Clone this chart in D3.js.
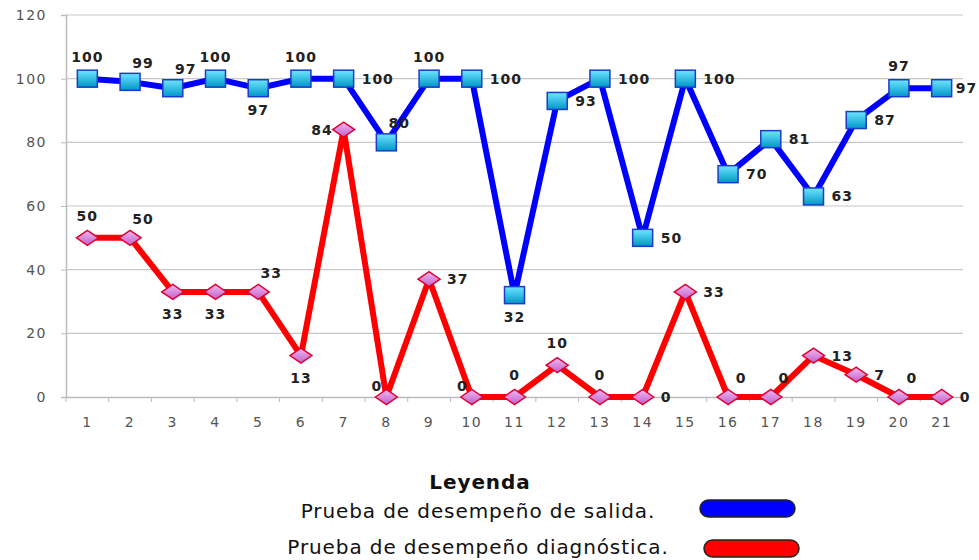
<!DOCTYPE html>
<html lang="es">
<head>
<meta charset="UTF-8">
<title>Leyenda</title>
<script src="https://cdn.jsdelivr.net/npm/d3@7"></script>
<style>
    body{ margin:0; background:#fff; }
    .tick text{ font-family:"DejaVu Sans", Verdana, sans-serif; font-size:14px; letter-spacing:1.5px; fill:#555; }
    .lbl{ font-family:"DejaVu Sans", Verdana, sans-serif; font-size:14px; letter-spacing:1px; font-weight:bold; fill:#222; }
    .leg{ font-family:"DejaVu Sans", Verdana, sans-serif; font-size:20px; letter-spacing:0.9px; fill:#111; }
</style>
</head>
<body>
<svg width="979" height="560"></svg>
<script>
    const categories = d3.range(1, 22).map(String)
    const salida = [100, 99, 97, 100, 97, 100, 100, 80, 100, 100, 32, 93, 100, 50, 100, 70, 81, 63, 87, 97, 97]
    const diagnostica = [50, 50, 33, 33, 33, 13, 84, 0, 37, 0, 0, 10, 0, 0, 33, 0, 0, 13, 7, 0, 0]
    const yTicks = [0, 20, 40, 60, 80, 100, 120]

    // where each value label sits relative to its point
    const salidaPos = ["t","tr","tr","t","b","t","r","tr","t","r","b","r","r","r","r","r","r","r","r","t","re"]
    const diagPos = ["t","tr","b","b","tr","b","l","tl","r","tl","t","t","t","r","r","tr","tr","r","r","tr","r"]
    const offs = {
        t:[0,-17,"middle"], b:[0,27,"middle"], r:[18,5,"start"], l:[-11,5,"end"],
        tr:[13,-14,"middle"], tl:[-4,-6,"end"], re:[14,5,"start"]
    }

    const svg = d3.select("svg")
    const x = d3.scaleBand().domain(categories).range([66, 963])
    const y = d3.scaleLinear().domain([0, 120]).range([397, 15])

    // grid
    svg.append("g").selectAll("line").data(yTicks.filter(d => d > 0)).enter().append("line")
        .attr("x1", 66).attr("x2", 963)
        .attr("y1", d => y(d)).attr("y2", d => y(d))
        .attr("stroke", "#c8c8c8").attr("stroke-width", 1.2)

    const yAxis = svg.append("g").attr("transform", "translate(66,0)")
        .call(d3.axisLeft(y).tickValues(yTicks).tickSize(5).tickPadding(14))
    yAxis.select(".domain").attr("stroke", "#bbb").attr("stroke-width", 1.5)
    yAxis.selectAll(".tick line").attr("stroke", "#bbb")

    const xAxis = svg.append("g").attr("transform", "translate(0,397)")
        .call(d3.axisBottom(x).tickSize(0).tickPadding(20))
    xAxis.select(".domain").attr("stroke", "#bbb").attr("stroke-width", 1.5)
    xAxis.append("g").selectAll("line").data(categories.concat("end")).enter().append("line")
        .attr("x1", (d, i) => 66 + i * x.step()).attr("x2", (d, i) => 66 + i * x.step())
        .attr("y1", 0).attr("y2", 5).attr("stroke", "#bbb")

    const cx = (d, i) => x(categories[i]) + x.bandwidth() / 2
    const line = d3.line().x(cx).y(d => y(d))

    const defs = svg.append("defs")
    const g1 = defs.append("linearGradient").attr("id", "sq").attr("x1", 0).attr("y1", 0).attr("x2", 0).attr("y2", 1)
    g1.append("stop").attr("offset", "0%").attr("stop-color", "#6fe6ff")
    g1.append("stop").attr("offset", "100%").attr("stop-color", "#0096c8")
    const g2 = defs.append("linearGradient").attr("id", "dm").attr("x1", 0).attr("y1", 0).attr("x2", 0).attr("y2", 1)
    g2.append("stop").attr("offset", "0%").attr("stop-color", "#f2b8f2")
    g2.append("stop").attr("offset", "100%").attr("stop-color", "#c060c8")

    function series(vals, color, pos, marker) {
        const g = svg.append("g")
        g.append("path").datum(vals).attr("d", line)
            .attr("fill", "none").attr("stroke", color).attr("stroke-width", 6).attr("stroke-linejoin", "round")
        const m = g.selectAll(".m").data(vals).enter().append("g")
            .attr("transform", (d, i) => `translate(${cx(d, i)},${y(d)})`)
        if (marker === "sq") {
            m.append("rect").attr("x", -10).attr("y", -8.5).attr("width", 20).attr("height", 17)
                .attr("fill", "url(#sq)").attr("stroke", "#1a3cc8").attr("stroke-width", 1.5)
        } else {
            m.append("path").attr("d", "M-11,0L0,-7.5L11,0L0,7.5Z")
                .attr("fill", "url(#dm)").attr("stroke", "#e00030").attr("stroke-width", 1.5)
        }
        g.selectAll(".lbl").data(vals).enter().append("text").attr("class", "lbl")
            .attr("x", (d, i) => cx(d, i) + offs[pos[i]][0])
            .attr("y", (d, i) => y(d) + offs[pos[i]][1])
            .attr("text-anchor", (d, i) => offs[pos[i]][2])
            .text(d => d)
    }
    series(diagnostica, "#ff0000", diagPos, "dm")
    series(salida, "#0000ff", salidaPos, "sq")

    // legend
    svg.append("text").attr("class", "leg").attr("x", 480).attr("y", 489)
        .attr("text-anchor", "middle").attr("font-weight", "bold").text("Leyenda")
    const legend = [["Prueba de desempeño de salida.", "#0000ff"], ["Prueba de desempeño diagnóstica.", "#ff0000"]]
    legend.forEach((d, i) => {
        svg.append("text").attr("class", "leg").attr("x", 478).attr("y", 518 + i * 36)
            .attr("text-anchor", "middle").text(d[0])
        svg.append("rect").attr("x", 700 + i * 4).attr("y", 500 + i * 40).attr("width", 95).attr("height", 17)
            .attr("rx", 8.5).attr("fill", d[1]).attr("stroke", "#222").attr("stroke-width", 1.5)
    })
</script>
</body>
</html>
